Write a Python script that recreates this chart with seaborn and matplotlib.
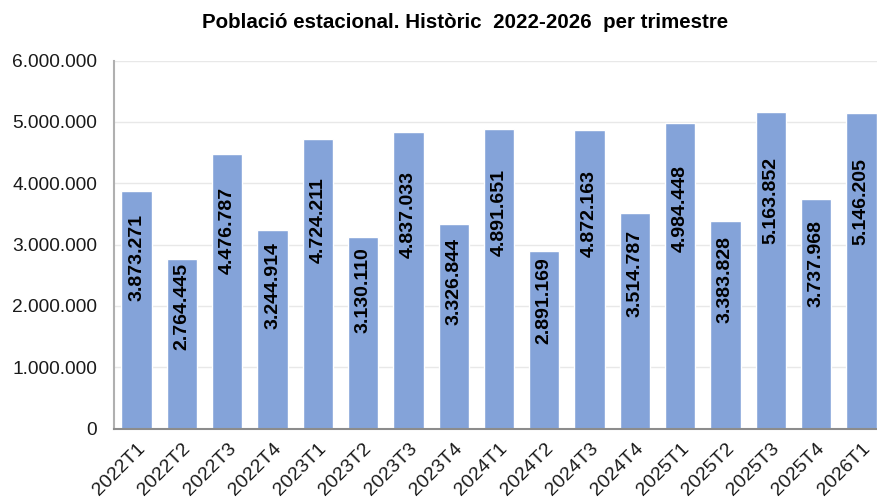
# Població estacional per trimestre (2022-2026)

import matplotlib
matplotlib.use("Agg")
import matplotlib.pyplot as plt
from matplotlib.ticker import FuncFormatter, MultipleLocator
import pandas as pd
import seaborn as sns


# ======================== dades ========================
TRIMESTRES = [
    "2022T1", "2022T2", "2022T3", "2022T4",
    "2023T1", "2023T2", "2023T3", "2023T4",
    "2024T1", "2024T2", "2024T3", "2024T4",
    "2025T1", "2025T2", "2025T3", "2025T4",
    "2026T1",
]
POBLACIO = [
    3873271, 2764445, 4476787, 3244914,
    4724211, 3130110, 4837033, 3326844,
    4891651, 2891169, 4872163, 3514787,
    4984448, 3383828, 5163852, 3737968,
    5146205,
]
TITOL = "Població estacional. Històric  2022-2026  per trimestre"


def punts_milers(v, pos=None) -> str:
    """Format amb punt com a separador de milers."""
    return f"{v:,.0f}".replace(",", ".")


# ======================== estil ========================
sns.set_theme(style="white")
plt.rcParams["font.family"] = ["Liberation Sans", "DejaVu Sans"]
plt.rcParams["axes.unicode_minus"] = False

bar_color = "#84A3D9"
text_color = "#1A1A1A"

df = pd.DataFrame({"trimestre": TRIMESTRES, "poblacio": POBLACIO})

fig = plt.figure(figsize=(8.77, 4.97), dpi=100)
ax = fig.add_axes([0.130, 0.1378, 0.878, 0.7404])

sns.barplot(
    data=df,
    x="trimestre",
    y="poblacio",
    color=bar_color,
    saturation=1,
    width=0.67,
    ax=ax,
    zorder=2,
)

# etiquetes de valor dins de cada barra
for i, v in enumerate(df["poblacio"]):
    ax.text(
        i,
        v * 0.72,
        punts_milers(v),
        rotation=90,
        ha="center",
        va="center",
        fontsize=14,
        fontweight="bold",
        color="black",
        zorder=3,
    )

ax.set_xlim(-0.5, len(TRIMESTRES) - 0.5)
ax.set_ylim(0, 6000000)
ax.yaxis.set_major_locator(MultipleLocator(1000000))
ax.yaxis.set_major_formatter(FuncFormatter(punts_milers))
ax.grid(axis="y", color="#E8E8E8", linewidth=1, zorder=0)
ax.set_axisbelow(True)

ax.set_xlabel("")
ax.set_ylabel("")
ax.tick_params(axis="y", length=0, pad=12, labelsize=13.8, labelcolor=text_color)
ax.tick_params(axis="x", length=0, pad=8, labelsize=14, labelcolor=text_color)
for lab in ax.get_xticklabels():
    lab.set_rotation(45)
    lab.set_ha("right")
    lab.set_va("top")
    lab.set_rotation_mode("anchor")

for side in ["top", "right"]:
    ax.spines[side].set_visible(False)
ax.spines["left"].set_color("#B0B0B0")
ax.spines["left"].set_linewidth(1.5)
ax.spines["bottom"].set_color("#8C8C8C")
ax.spines["bottom"].set_linewidth(1.5)

fig.text(
    465 / 877,
    1 - 22 / 497,
    TITOL,
    ha="center",
    va="center",
    fontsize=14.8,
    fontweight="bold",
    color="black",
)

fig.savefig("out.png", dpi=100)
plt.close(fig)
